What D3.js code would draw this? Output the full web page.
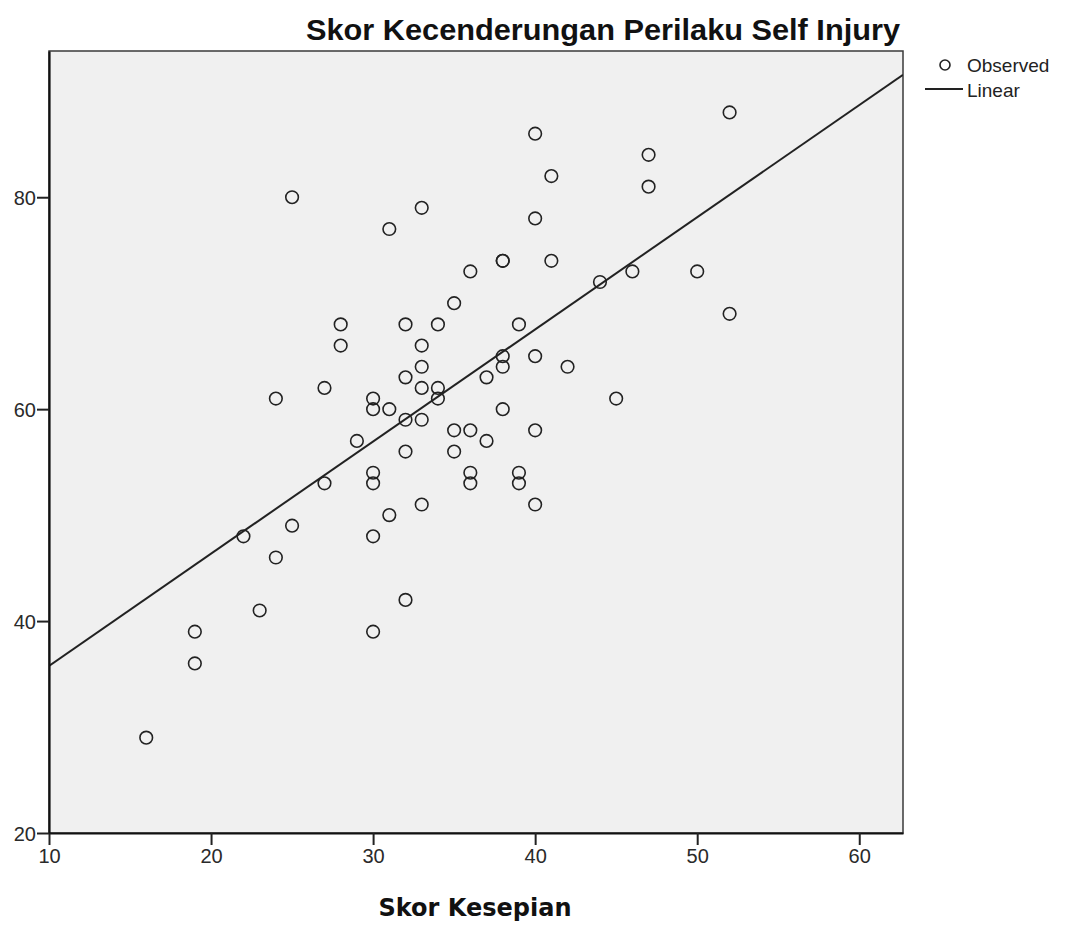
<!DOCTYPE html>
<html>
<head>
  <meta charset="utf-8">
  <title>Skor Kecenderungan Perilaku Self Injury</title>
  <style>
    body { margin: 0; background: #fff; }
    svg { display: block; font-family: "Liberation Sans", Arial, sans-serif; }
  </style>
</head>
<body>
  <svg id="chart"></svg>

  <script src="https://cdnjs.cloudflare.com/ajax/libs/d3/7.8.5/d3.min.js"></script>
  <script>
    // Skor Kesepian (x) and Skor Kecenderungan Perilaku Self Injury (y)
    const skorKesepian = [
      16, 19, 19, 22, 23, 24, 24, 25, 25,
      27, 27, 28, 28, 29,
      30, 30, 30, 30, 30, 30,
      31, 31, 31,
      32, 32, 32, 32, 32,
      33, 33, 33, 33, 33, 33,
      34, 34, 34,
      35, 35, 35,
      36, 36, 36, 36,
      37, 37,
      38, 38, 38, 38, 38,
      39, 39, 39,
      40, 40, 40, 40, 40,
      41, 41,
      42, 44, 45, 46,
      47, 47,
      50,
      52, 52
    ];
    const skorSelfInjury = [
      29, 39, 36, 48, 41, 46, 61, 49, 80,
      53, 62, 66, 68, 57,
      61, 60, 54, 53, 48, 39,
      60, 50, 77,
      68, 63, 59, 56, 42,
      79, 66, 64, 62, 59, 51,
      68, 62, 61,
      70, 58, 56,
      73, 58, 54, 53,
      63, 57,
      74, 74, 65, 64, 60,
      68, 54, 53,
      86, 78, 65, 58, 51,
      82, 74,
      64, 72, 61, 73,
      84, 81,
      73,
      88, 69
    ];
    const xTicks = [10, 20, 30, 40, 50, 60];
    const yTicks = [20, 40, 60, 80];
    const xDomain = [10, 62.7];
    const yDomain = [20, 93.8];
    const legendLabels = ["Observed", "Linear"];

    const width = 1072, height = 927;
    const plot = { left: 49, right: 903, top: 51, bottom: 833 };

    const svg = d3.select("#chart")
      .attr("width", width)
      .attr("height", height)
      .attr("viewBox", [0, 0, width, height]);

    const x = d3.scaleLinear().domain(xDomain).range([plot.left, plot.right]);
    const y = d3.scaleLinear().domain(yDomain).range([plot.bottom, plot.top]);

    const points = skorKesepian.map((v, i) => [v, skorSelfInjury[i]]);

    /** least squares fit for the "Linear" line */
    const mx = d3.mean(skorKesepian), my = d3.mean(skorSelfInjury);
    const sxy = d3.sum(points, d => (d[0] - mx) * (d[1] - my));
    const sxx = d3.sum(points, d => (d[0] - mx) ** 2);
    const slope = sxy / sxx;
    const intercept = my - slope * mx;

    // plot background
    svg.append("rect")
      .attr("x", plot.left)
      .attr("y", plot.top)
      .attr("width", plot.right - plot.left)
      .attr("height", plot.bottom - plot.top)
      .attr("fill", "#f0f0f0")
      .attr("stroke", "#3a3a3a")
      .attr("stroke-width", 1.5);

    // fit line, clipped to the plot
    svg.append("clipPath").attr("id", "clip")
      .append("rect")
      .attr("x", plot.left).attr("y", plot.top)
      .attr("width", plot.right - plot.left).attr("height", plot.bottom - plot.top);

    const lineXs = xDomain;
    svg.append("line")
      .attr("clip-path", "url(#clip)")
      .attr("x1", x(lineXs[0]))
      .attr("y1", y(intercept + slope * lineXs[0]))
      .attr("x2", x(lineXs[1]))
      .attr("y2", y(intercept + slope * lineXs[1]))
      .attr("stroke", "#222")
      .attr("stroke-width", 2);

    // observed points
    svg.append("g")
      .attr("fill", "none")
      .attr("stroke", "#222")
      .attr("stroke-width", 1.6)
      .selectAll("circle")
      .data(points)
      .join("circle")
      .attr("cx", d => x(d[0]))
      .attr("cy", d => y(d[1]))
      .attr("r", 6.3);

    // axes
    const xAxis = svg.append("g")
      .attr("transform", `translate(0,${plot.bottom})`)
      .call(d3.axisBottom(x).tickValues(xTicks).tickSize(12).tickPadding(4).tickSizeOuter(0));
    const yAxis = svg.append("g")
      .attr("transform", `translate(${plot.left},0)`)
      .call(d3.axisLeft(y).tickValues(yTicks).tickSize(12).tickPadding(1).tickSizeOuter(0));

    [xAxis, yAxis].forEach(g => {
      g.select(".domain").attr("stroke", "#111").attr("stroke-width", 2.2);
      g.selectAll(".tick line").attr("stroke", "#222").attr("stroke-width", 2);
      g.selectAll(".tick text")
        .attr("fill", "#2a2a2a")
        .style("font-size", "20px")
        .style("font-family", "'Liberation Sans', Arial, sans-serif");
    });
    yAxis.selectAll(".tick text").attr("dy", "0.36em");

    // title
    svg.append("text")
      .attr("x", 900)
      .attr("y", 40)
      .attr("text-anchor", "end")
      .attr("textLength", 594)
      .attr("lengthAdjust", "spacingAndGlyphs")
      .style("font-size", "29px")
      .style("font-weight", "bold")
      .attr("fill", "#111")
      .text("Skor Kecenderungan Perilaku Self Injury");

    // x axis title
    svg.append("text")
      .attr("x", 475)
      .attr("y", 916)
      .attr("text-anchor", "middle")
      .style("font-family", "'DejaVu Sans', Verdana, sans-serif")
      .style("font-size", "24px")
      .style("font-weight", "bold")
      .attr("fill", "#111")
      .text("Skor Kesepian");

    // legend
    const legend = svg.append("g").attr("transform", "translate(925,0)");
    legend.append("circle")
      .attr("cx", 20).attr("cy", 65).attr("r", 5)
      .attr("fill", "none").attr("stroke", "#222").attr("stroke-width", 1.6);
    legend.append("line")
      .attr("x1", 0).attr("x2", 38).attr("y1", 89).attr("y2", 89)
      .attr("stroke", "#222").attr("stroke-width", 2);
    legend.selectAll("text.lg")
      .data(legendLabels)
      .join("text")
      .attr("class", "lg")
      .attr("x", 42)
      .attr("y", (d, i) => 72 + i * 25)
      .style("font-size", "19px")
      .attr("fill", "#222")
      .text(d => d);
  </script>
</body>
</html>
